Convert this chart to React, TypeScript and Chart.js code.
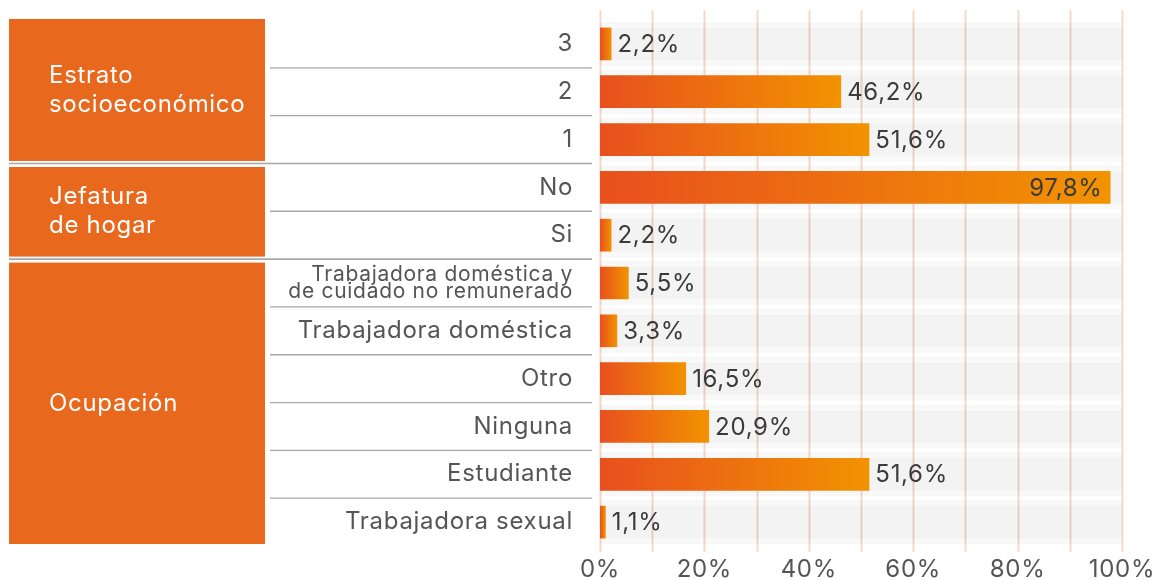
import React, { useEffect, useRef } from "react";
import { Chart, registerables } from "chart.js";

Chart.register(...registerables);

const categories: (string | string[])[] = [
  "3",
  "2",
  "1",
  "No",
  "Si",
  ["Trabajadora doméstica y", "de cuidado no remunerado"],
  "Trabajadora doméstica",
  "Otro",
  "Ninguna",
  "Estudiante",
  "Trabajadora sexual",
];
const values = [2.2, 46.2, 51.6, 97.8, 2.2, 5.5, 3.3, 16.5, 20.9, 51.6, 1.1];
const groupLabels = [["Estrato", "socioeconómico"], ["Jefatura", "de hogar"], ["Ocupación"]];
const groupSizes = [3, 2, 6];
const trackValue = 100;
const xMin = 0;
const xMax = 100;
const xStep = 10;
const xLabelStep = 20;

const FONT = "Inter";
const ORANGE = "#e8681e";
const SPACING = "0.7px";

const rowBounds = (chart: any) => {
  const ys = chart.scales.y;
  const n = categories.length;
  const px = (i: number) => ys.getPixelForTick(i);
  const half = (px(1) - px(0)) / 2;
  const b: number[] = [px(0) - half];
  for (let i = 0; i < n - 1; i++) b.push((px(i) + px(i + 1)) / 2);
  b.push(px(n - 1) + half);
  return b;
};

const spacingPlugin = {
  id: "spacing",
  beforeDraw(chart: any) {
    (chart.ctx as any).letterSpacing = SPACING;
  },
};

const panelPlugin = {
  id: "panel",
  afterDraw(chart: any) {
    const ctx = chart.ctx;
    const b = rowBounds(chart);
    const area = chart.chartArea;
    ctx.save();
    let start = 0;
    groupSizes.forEach((size, g) => {
      const end = start + size;
      const top = g === 0 ? b[start] - 1 : b[start] + 3.5;
      const bottom = g === groupSizes.length - 1 ? b[end] - 2 : b[end] - 2.5;
      ctx.fillStyle = ORANGE;
      ctx.fillRect(9, top, 256, bottom - top);
      const lines = groupLabels[g];
      const lh = 29;
      const cy = (top + bottom) / 2;
      ctx.fillStyle = "#ffffff";
      ctx.font = `24px ${FONT}`;
      ctx.textAlign = "left";
      ctx.textBaseline = "middle";
      lines.forEach((t, i) => {
        ctx.fillText(t, 49, cy + (i - (lines.length - 1) / 2) * lh);
      });
      ctx.strokeStyle = "#a8a8a8";
      ctx.lineWidth = 1.3;
      for (let k = start + 1; k < end; k++) {
        ctx.beginPath();
        ctx.moveTo(270, b[k]);
        ctx.lineTo(area.left - 8, b[k]);
        ctx.stroke();
      }
      if (g < groupSizes.length - 1) {
        ctx.lineWidth = 1.6;
        ctx.beginPath();
        ctx.moveTo(9, b[end]);
        ctx.lineTo(area.left - 8, b[end]);
        ctx.stroke();
      }
      start = end;
    });
    ctx.restore();
  },
};

const gridPlugin = {
  id: "vgrid",
  beforeDatasetsDraw(chart: any) {
    const ctx = chart.ctx;
    const xs = chart.scales.x;
    const area = chart.chartArea;
    ctx.save();
    ctx.strokeStyle = "#f6d8cc";
    ctx.lineWidth = 2;
    xs.ticks.forEach((t: any) => {
      const x = Math.round(xs.getPixelForValue(t.value)) + 0.5;
      ctx.beginPath();
      ctx.moveTo(x, area.top - 10);
      ctx.lineTo(x, area.bottom + 6);
      ctx.stroke();
    });
    ctx.restore();
  },
};

const valueLabelPlugin = {
  id: "valueLabels",
  afterDatasetsDraw(chart: any) {
    const ctx = chart.ctx;
    const meta = chart.getDatasetMeta(0);
    ctx.save();
    ctx.font = `24px ${FONT}`;
    ctx.fillStyle = "#3b3b3b";
    ctx.textBaseline = "middle";
    meta.data.forEach((bar: any, i: number) => {
      const v = values[i];
      const text = v.toFixed(1).replace(".", ",") + "%";
      if (v > 90) {
        ctx.textAlign = "right";
        ctx.fillText(text, bar.x - 8, bar.y + 1);
      } else {
        ctx.textAlign = "left";
        ctx.fillText(text, bar.x + 6, bar.y + 1);
      }
    });
    ctx.restore();
  },
};

export default function App() {
  const ref = useRef<HTMLCanvasElement | null>(null);
  useEffect(() => {
    if (!ref.current) return;
    Chart.defaults.font.family = FONT;
    const chart = new Chart(ref.current, {
      type: "bar",
      data: {
        labels: categories as any,
        datasets: [
          {
            data: values,
            order: 0,
            grouped: false,
            barPercentage: 0.684,
            categoryPercentage: 1,
            backgroundColor: (c: any) => {
              const ch = c.chart;
              if (!ch.chartArea || c.type !== "data") return "#ec7010";
              const xs = ch.scales.x;
              const x0 = xs.getPixelForValue(0);
              const x1 = xs.getPixelForValue(c.raw);
              const g = ch.ctx.createLinearGradient(x0, 0, Math.max(x1, x0 + 1), 0);
              g.addColorStop(0, "#e8501e");
              g.addColorStop(1, "#f29300");
              return g;
            },
          },
          {
            data: categories.map(() => trackValue),
            order: 1,
            grouped: false,
            barPercentage: 0.93,
            categoryPercentage: 1,
            backgroundColor: "rgba(0,0,0,0.048)",
            borderColor: "rgba(0,0,0,0.028)",
            borderWidth: { top: 6, bottom: 6, left: 0, right: 0 } as any,
            borderSkipped: false as any,
          },
        ],
      },
      options: {
        indexAxis: "y",
        animation: false,
        responsive: false,
        maintainAspectRatio: false,
        events: [],
        layout: { padding: { top: 20, right: 38, left: 0, bottom: 0 } },
        plugins: { legend: { display: false }, tooltip: { enabled: false } },
        scales: {
          x: {
            min: xMin,
            max: xMax,
            grid: { display: false, drawTicks: false },
            border: { display: false },
            ticks: {
              stepSize: xStep,
              autoSkip: false,
              maxRotation: 0,
              padding: 9,
              color: "#555555",
              font: { size: 24, family: FONT },
              callback: (v: any) => (Number(v) % xLabelStep === 0 ? `${v}%` : ""),
            },
            afterFit: (s: any) => {
              s.height = 34;
              s.paddingLeft = 0;
              s.paddingRight = 0;
            },
          },
          y: {
            grid: { display: false, drawTicks: false },
            border: { display: false },
            ticks: {
              autoSkip: false,
              padding: 27,
              color: "#555555",
              font: (c: any) =>
                c.index === 5
                  ? { size: 21, lineHeight: 0.81, family: FONT }
                  : { size: 24, family: FONT },
            },
            afterFit: (s: any) => {
              s.width = 600;
              s.paddingTop = 0;
              s.paddingBottom = 0;
            },
          },
        },
      },
      plugins: [spacingPlugin, gridPlugin, valueLabelPlugin, panelPlugin],
    });
    return () => chart.destroy();
  }, []);
  return (
    <div style={{ position: "fixed", left: 0, top: 0, width: 1160, height: 580, background: "#fff" }}>
      <canvas ref={ref} width={1160} height={580} style={{ width: 1160, height: 580 }} />
    </div>
  );
}
